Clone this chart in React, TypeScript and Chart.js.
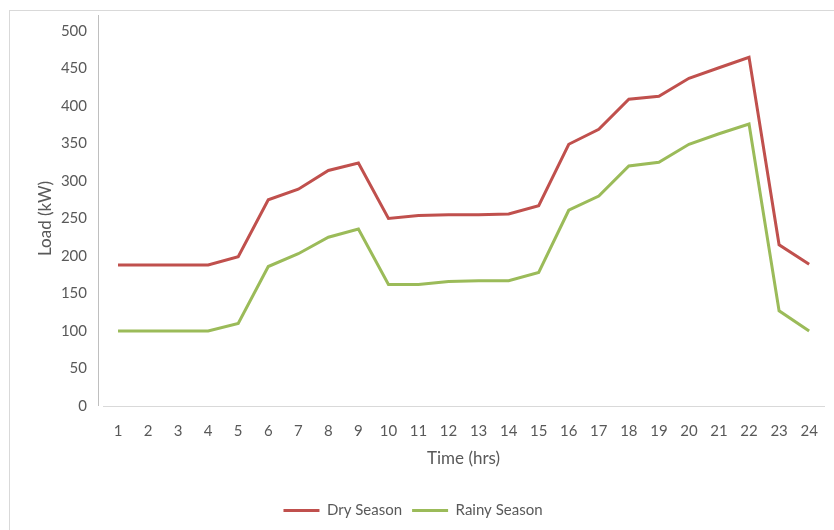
import React, { useEffect, useRef } from "react";
import { Chart, registerables } from "chart.js";

Chart.register(...registerables);

const hours = ["1","2","3","4","5","6","7","8","9","10","11","12","13","14","15","16","17","18","19","20","21","22","23","24"];
const drySeason = [188,188,188,188,199,275,289,314,324,250,254,255,255,256,267,349,369,409,413,437,451,465,215,189];
const rainySeason = [100,100,100,100,110,186,203,225,236,162,162,166,167,167,178,261,280,320,325,349,363,376,127,100];
const seriesNames = ["Dry Season", "Rainy Season"];
const yTitle = "Load (kW)";
const xTitle = "Time (hrs)";

const FONT = "Lato, 'Open Sans', sans-serif";
const GREY = "#595959";

const yAxisLine = {
  id: "yAxisLine",
  afterDraw(chart: any) {
    const { ctx, chartArea } = chart;
    ctx.save();
    ctx.strokeStyle = "#bfbfbf";
    ctx.lineWidth = 1;
    ctx.beginPath();
    ctx.moveTo(chartArea.left - 4.5, chartArea.top - 16);
    ctx.lineTo(chartArea.left - 4.5, chartArea.bottom);
    ctx.stroke();
    ctx.restore();
  },
};

export default function App() {
  const ref = useRef<HTMLCanvasElement>(null);
  useEffect(() => {
    if (!ref.current) return;
    const chart = new Chart(ref.current, {
      type: "line",
      data: {
        labels: hours,
        datasets: [
          {
            label: seriesNames[0],
            data: drySeason,
            borderColor: "#C0504D",
            backgroundColor: "#C0504D",
            borderWidth: 3,
            pointRadius: 0,
            tension: 0,
          },
          {
            label: seriesNames[1],
            data: rainySeason,
            borderColor: "#9BBB59",
            backgroundColor: "#9BBB59",
            borderWidth: 3,
            pointRadius: 0,
            tension: 0,
          },
        ],
      },
      options: {
        responsive: false,
        animation: false,
        layout: { padding: { top: 31, right: 8, left: 0, bottom: 2 } },
        plugins: {
          tooltip: { enabled: false },
          legend: {
            position: "bottom",
            labels: {
              usePointStyle: true,
              pointStyle: "line",
              pointStyleWidth: 36,
              color: GREY,
              font: { family: FONT, size: 15 },
              padding: 10,
            },
          },
        },
        scales: {
          x: {
            offset: true,
            grid: { display: false, drawTicks: false },
            border: { display: true, color: "#d9d9d9", width: 1 },
            ticks: { color: GREY, font: { family: FONT, size: 15 }, padding: 16, maxRotation: 0, autoSkip: false },
            title: { display: true, text: xTitle, color: GREY, font: { family: FONT, size: 17 }, padding: { top: 4, bottom: 24 } },
            afterFit(scale: any) { scale.height = 87; },
          },
          y: {
            min: 0,
            max: 500,
            grid: { display: false, drawTicks: false },
            border: { display: false },
            ticks: { stepSize: 50, color: GREY, font: { family: FONT, size: 15 }, padding: 16 },
            title: { display: true, text: yTitle, color: GREY, font: { family: FONT, size: 17 }, padding: { top: 35, bottom: 0 } },
            afterFit(scale: any) { scale.width = 103; },
          },
        },
      },
      plugins: [yAxisLine],
    });
    return () => chart.destroy();
  }, []);

  return (
    <div style={{ position: "fixed", left: 0, top: 0, width: 834, height: 530, background: "#fff", overflow: "hidden" }}>
      <div style={{ position: "absolute", left: 9, top: 10, width: 840, height: 540, border: "1px solid #d9d9d9" }} />
      <canvas ref={ref} width={834} height={530} style={{ position: "absolute", left: 0, top: 0, width: 834, height: 530 }} />
    </div>
  );
}
